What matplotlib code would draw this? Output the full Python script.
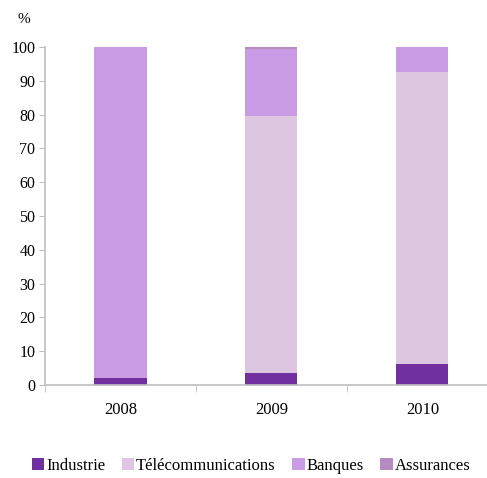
import matplotlib
matplotlib.use("Agg")
import matplotlib.pyplot as plt
import numpy as np

years = ["2008", "2009", "2010"]
series = ["Industrie", "Télécommunications", "Banques", "Assurances"]
industrie = [2.0, 3.5, 6.2]
telecom = [0.0, 76.0, 86.4]
banques = [98.0, 19.9, 7.4]
assurances = [0.0, 0.6, 0.0]
colors = ["#7030A0", "#DCC6E0", "#C89BE4", "#B48CC0"]

plt.rcParams["font.family"] = ["Liberation Serif", "DejaVu Serif"]

fig = plt.figure(figsize=(4.87, 4.78), dpi=100)
ax = fig.add_axes([0.0924, 0.1946, 0.930, 0.7071])

x = np.arange(len(years))
bottom = np.zeros(len(years))
for name, vals, c in zip(series, [industrie, telecom, banques, assurances], colors):
    ax.bar(x, vals, width=0.345, bottom=bottom, color=c, label=name, zorder=2)
    bottom += np.array(vals)

ax.set_xlim(-0.5, 2.5)
ax.set_ylim(0, 100)
ax.set_yticks(range(0, 101, 10))
ax.set_xticks(x)
ax.set_xticklabels(years)
ax.set_xticks([-0.5, 0.5, 1.5], minor=True)
ax.tick_params(axis="x", which="major", length=0, pad=12, labelsize=12)
ax.tick_params(axis="x", which="minor", length=5, color="#BFBFBF", direction="out")
ax.tick_params(axis="y", length=4, color="#BFBFBF", direction="out", labelsize=11.5, pad=3)
for s in ["top", "right"]:
    ax.spines[s].set_visible(False)
for s in ["left", "bottom"]:
    ax.spines[s].set_color("#BFBFBF")
    ax.spines[s].set_linewidth(1.2)

fig.text(0.035, 0.96, "%", fontsize=11, va="center")

fig.legend(loc="center left", bbox_to_anchor=(0.052, 0.025), ncol=4, frameon=False,
           fontsize=12, handlelength=0.75, handleheight=0.75, handletextpad=0.1,
           columnspacing=1.0, borderaxespad=0)

fig.savefig("out.png", dpi=100)
